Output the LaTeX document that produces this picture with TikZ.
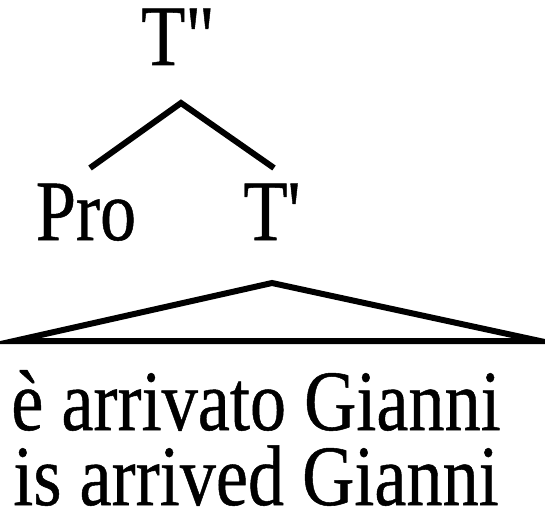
\documentclass[tikz,border=0pt]{standalone}
\usepackage{fontspec}
\setmainfont{Liberation Serif}[Ligatures=TeXOff, FakeBold=0.6]
\usepackage{graphicx}
\begin{document}
\begin{tikzpicture}[x=1pt,y=1pt,
  lbl/.style={inner sep=0pt, anchor=base, text height=0.7em, text depth=0pt,
    font=\fontsize{86}{96}\selectfont},
  branch/.style={line width=6pt, line join=miter}]
\useasboundingbox (0,0) rectangle (545,512);
% labels
\node[lbl] (tpp) at (178,447) {\scalebox{0.84}[1]{T"}};
\node[lbl] (pro) at (86,272) {\scalebox{0.84}[1]{Pro}};
\node[lbl] (tp)  at (272,272) {\scalebox{0.84}[1]{T'}};
% branches under T''
\coordinate (apex) at (181,409);
\coordinate (lend) at (90,344);
\coordinate (rend) at (274,344);
\draw[branch] (lend) -- (apex) -- (rend);
% triangle under T'
\coordinate (top) at (272,229);
\coordinate (bl) at (14,171);
\coordinate (br) at (540,171);
\draw[branch] (bl) -- (top) -- (br) -- cycle;
% the two text lines
\node[lbl] (it) at (256,82) {\scalebox{0.84}[1]{è arrivato Gianni}};
\node[lbl] (en) at (256,7) {\scalebox{0.84}[1]{is arrived Gianni}};
\end{tikzpicture}
\end{document}
